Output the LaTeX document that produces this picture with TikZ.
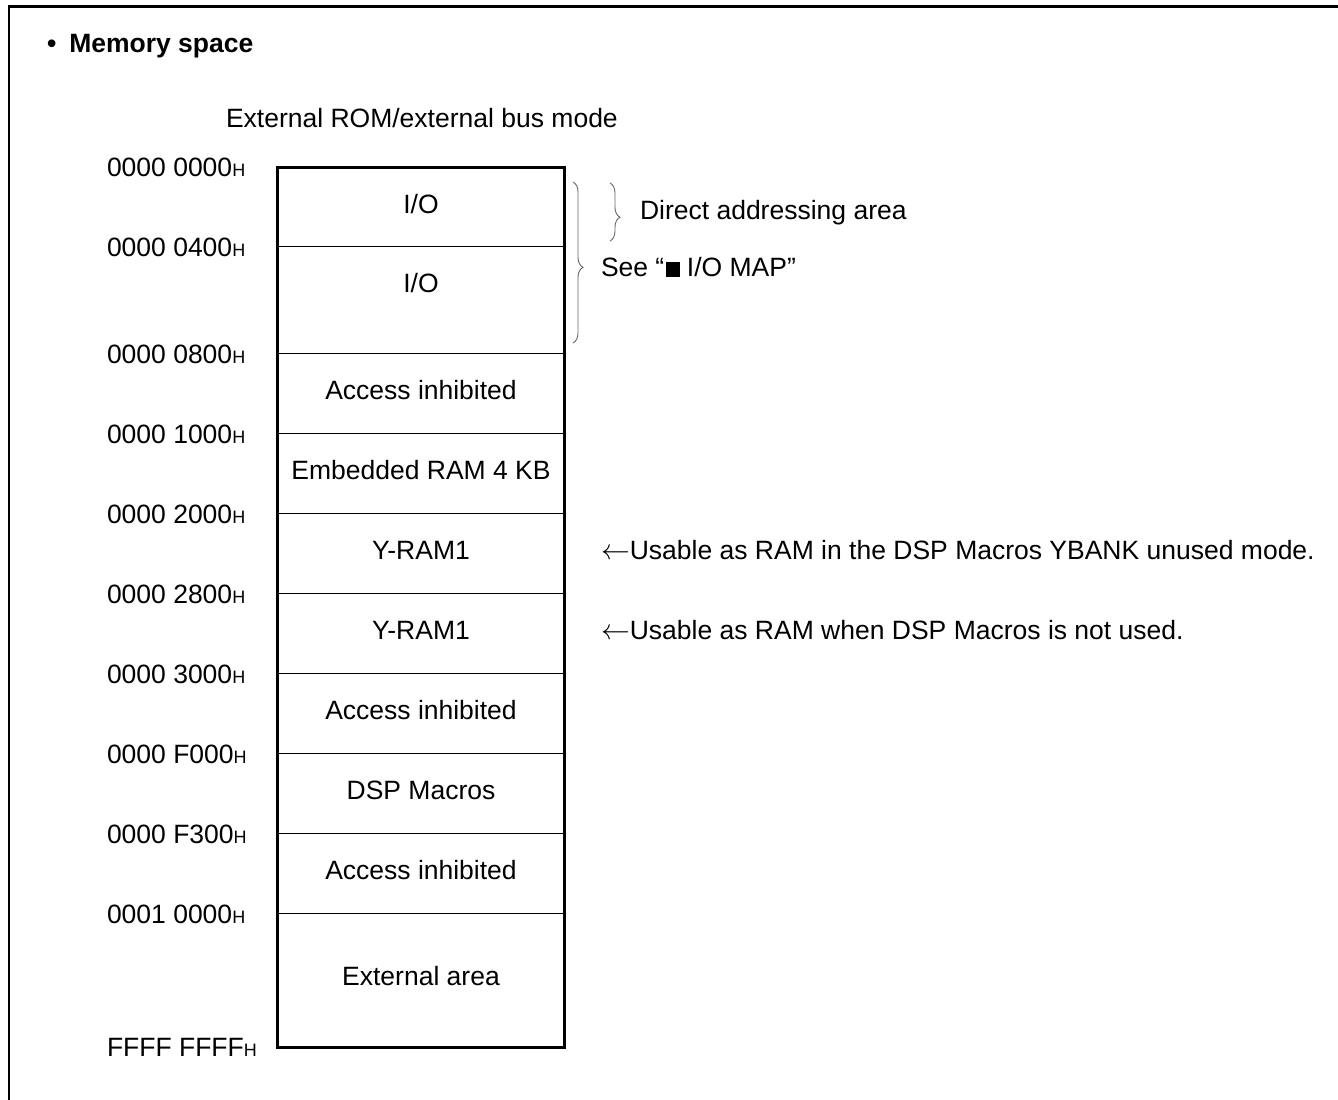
\documentclass[tikz,border=0pt]{standalone}
\usepackage{fontspec}
\setmainfont{Liberation Sans}
\usetikzlibrary{decorations.pathreplacing}
\begin{document}
\begin{tikzpicture}[x=0.5pt,y=-0.5pt,
  every node/.style={inner sep=0pt, outer sep=0pt, font=\fontsize{13.25}{15}\selectfont},
  addr/.style={anchor=base west},
  celltext/.style={anchor=base},
  note/.style={anchor=base west},
  outerline/.style={line width=1.5pt},
  divider/.style={line width=0.9pt},
  frameline/.style={line width=1.3pt},
  bracegray/.style={draw=black!60, line width=0.45pt, decorate,
    decoration={brace, amplitude=5pt, aspect=#1}}
]
\useasboundingbox (0,0) rectangle (1338,1099);
% frame
\draw[frameline] (9,1110) -- (9,6.5) -- (1350,6.5);
% title
\node[note, font=\fontsize{13.25}{15}\selectfont\bfseries] (title) at (47,52) {\textbullet\hspace{6.5pt}Memory space};
\node[note] (mode) at (226,127) {External ROM/external bus mode};
% memory box
\draw[outerline] (277,167.5) rectangle (564,1047);
\foreach \yy in {246.5,353.5,433.5,513.5,593.5,673.5,753.5,833.5,913.5}
  \draw[divider] (277,\yy) -- (564,\yy);
% addresses
\newcommand{\hx}{{\fontsize{9}{9}\selectfont H}}
\node[addr] (a0) at (107,176.5) {0000 0000\hx};
\node[addr] (a1) at (107,256.5) {0000 0400\hx};
\node[addr] (a2) at (107,363.5) {0000 0800\hx};
\node[addr] (a3) at (107,443.5) {0000 1000\hx};
\node[addr] (a4) at (107,523.5) {0000 2000\hx};
\node[addr] (a5) at (107,603.5) {0000 2800\hx};
\node[addr] (a6) at (107,683.5) {0000 3000\hx};
\node[addr] (a7) at (107,763.5) {0000 F000\hx};
\node[addr] (a8) at (107,843.5) {0000 F300\hx};
\node[addr] (a9) at (107,923.5) {0001 0000\hx};
\node[addr] (a10) at (107,1056) {FFFF FFFF\hx};
% cell texts
\node[celltext] (c1) at (421,213.5) {I/O};
\node[celltext] (c2) at (421,292.5) {I/O};
\node[celltext] (c3) at (421,399.5) {Access inhibited};
\node[celltext] (c4) at (421,479.5) {Embedded RAM 4 KB};
\node[celltext] (c5) at (421,559.5) {Y-RAM1};
\node[celltext] (c6) at (421,639.5) {Y-RAM1};
\node[celltext] (c7) at (421,719.5) {Access inhibited};
\node[celltext] (c8) at (421,799.5) {DSP Macros};
\node[celltext] (c9) at (421,879.5) {Access inhibited};
\node[celltext] (c10) at (421,985.5) {External area};
% braces
\coordinate (bt) at (573,182);
\coordinate (bb) at (573,343);
\coordinate (st) at (610,183);
\coordinate (sb) at (610,241);
\draw[bracegray=0.53] (bt) -- (bb);
\draw[bracegray=0.59] (st) -- (sb);
\node[note] (direct) at (640,219.5) {Direct addressing area};
\node[note] (see) at (601,276.5) {See “\hspace{1pt}\rule{6.6pt}{7.2pt} I/O MAP”};
% notes
\node[note] (n1) at (601,559.5) {$\leftarrow$Usable as RAM in the DSP Macros YBANK unused mode.};
\node[note] (n2) at (601,639.5) {$\leftarrow$Usable as RAM when DSP Macros is not used.};
\end{tikzpicture}
\end{document}
